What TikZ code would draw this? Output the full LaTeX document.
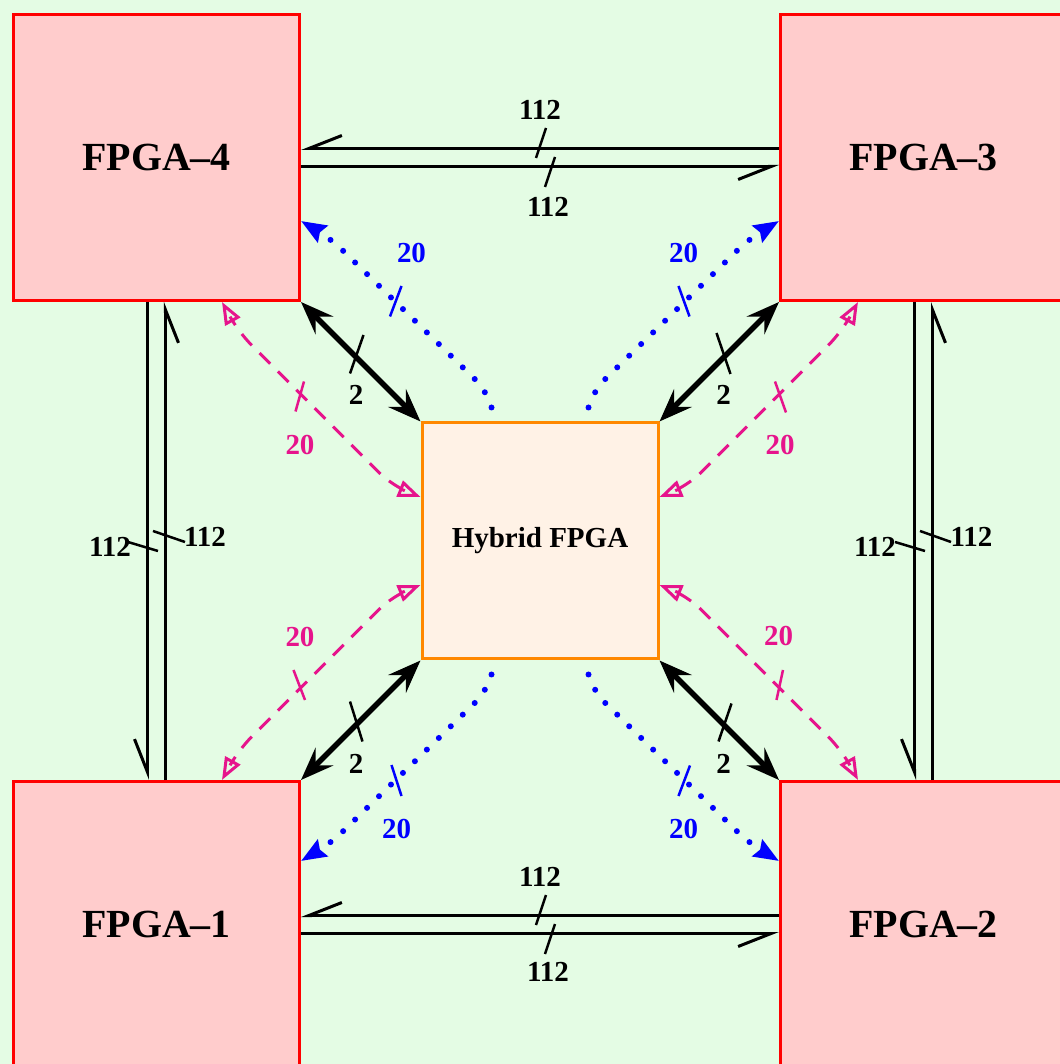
\documentclass[tikz,border=0pt]{standalone}
\usepackage{fontspec}
\setmainfont{Liberation Serif}
\usetikzlibrary{arrows.meta}

\definecolor{bggreen}{RGB}{228,252,228}
\definecolor{boxpink}{RGB}{255,204,204}
\definecolor{hybfill}{RGB}{255,242,230}
\definecolor{hyborange}{RGB}{255,136,0}
\definecolor{cfgpink}{RGB}{230,20,140}

\begin{document}
\begin{tikzpicture}
    % Define styles
    \tikzstyle{fpga} = [rectangle, draw=red, fill=boxpink, line width=0.06cm, minimum size=5.72cm, inner sep=0pt, font=\fontsize{22.7}{27}\selectfont\bfseries]
    \tikzstyle{hybrid} = [rectangle, draw=hyborange, fill=hybfill, line width=0.06cm, minimum size=4.72cm, inner sep=0pt, font=\fontsize{16.5}{20}\selectfont\bfseries]
    \tikzstyle{bus} = [line width=0.06cm, -{Straight Barb[harpoon, swap, length=0.66cm, width=0.52cm]}]
    \tikzstyle{wide} = [line width=0.11cm, {Stealth[length=0.66cm, width=0.5cm, inset=0.25cm]}-{Stealth[length=0.66cm, width=0.5cm, inset=0.25cm]}]
    \tikzstyle{dotlink} = [blue, line width=0.12cm, line cap=round, rounded corners=0.3cm, dash pattern=on 0pt off 0.334cm, -{Stealth[length=0.5cm, width=0.38cm, inset=0.06cm]}]
    \tikzstyle{cfglink} = [cfgpink, line width=0.06cm, rounded corners=0.35cm, dash pattern=on 0.3cm off 0.22cm, {Triangle[open, length=0.45cm, width=0.34cm]}-{Triangle[open, length=0.45cm, width=0.34cm]}]
    \tikzstyle{tick} = [line width=0.05cm]
    \tikzstyle{lbl} = [font=\fontsize{16.5}{20}\selectfont\bfseries, inner sep=0pt]

    % Background
    \useasboundingbox (-10.8,-10.46) rectangle (10.4,10.82);
    \clip (-10.8,-10.46) rectangle (10.4,10.82);
    \fill[bggreen] (-10.8,-10.46) rectangle (10.4,10.82);

    % Boards
    \node[hybrid] (hyb) at (0,0) {Hybrid FPGA};
    \node[fpga] (f4) at (-7.67,7.67) {FPGA–4};
    \node[fpga] (f3) at (7.67,7.67) {FPGA–3};
    \node[fpga] (f1) at (-7.67,-7.67) {FPGA–1};
    \node[fpga] (f2) at (7.67,-7.67) {FPGA–2};

    % 112-bit buses, top and bottom
    \draw[bus] ([yshift=0.18cm]f3.west) -- ([yshift=0.18cm]f4.east);
    \draw[bus] ([yshift=-0.18cm]f4.east) -- ([yshift=-0.18cm]f3.west);
    \draw[tick] (0.12,8.26) -- (-0.08,7.66);
    \draw[tick] (0.3,7.68) -- (0.1,7.08);
    \node[lbl] (n1) at (0,8.62) {112};
    \node[lbl] (n2) at (0.16,6.68) {112};

    \draw[bus] ([yshift=0.18cm]f2.west) -- ([yshift=0.18cm]f1.east);
    \draw[bus] ([yshift=-0.18cm]f1.east) -- ([yshift=-0.18cm]f2.west);
    \draw[tick] (0.12,-7.08) -- (-0.08,-7.68);
    \draw[tick] (0.3,-7.66) -- (0.1,-8.26);
    \node[lbl] (n3) at (0,-6.72) {112};
    \node[lbl] (n4) at (0.16,-8.62) {112};

    % 112-bit buses, left and right
    \draw[bus] ([xshift=-0.18cm]f4.south) -- ([xshift=-0.18cm]f1.north);
    \draw[bus] ([xshift=0.18cm]f1.north) -- ([xshift=0.18cm]f4.south);
    \draw[tick] (-8.24,-0.02) -- (-7.64,-0.2);
    \draw[tick] (-7.74,0.2) -- (-7.1,-0.02);
    \node[lbl] (n5) at (-8.6,-0.12) {112};
    \node[lbl] (n6) at (-6.7,0.08) {112};

    \draw[bus] ([xshift=-0.18cm]f3.south) -- ([xshift=-0.18cm]f2.north);
    \draw[bus] ([xshift=0.18cm]f2.north) -- ([xshift=0.18cm]f3.south);
    \draw[tick] (7.1,-0.02) -- (7.7,-0.2);
    \draw[tick] (7.6,0.2) -- (8.22,-0.02);
    \node[lbl] (n7) at (6.7,-0.12) {112};
    \node[lbl] (n8) at (8.63,0.08) {112};

    % 2-bit links to the hybrid board
    \draw[wide] (f4.south east) -- (hyb.north west);
    \draw[wide] (f3.south west) -- (hyb.north east);
    \draw[wide] (f1.north east) -- (hyb.south west);
    \draw[wide] (f2.north west) -- (hyb.south east);
    \draw[tick] (-3.8,3.35) -- (-3.53,4.12);
    \draw[tick] (3.53,4.16) -- (3.81,3.34);
    \draw[tick] (-3.8,-3.21) -- (-3.55,-4.01);
    \draw[tick] (3.57,-4.01) -- (3.83,-3.25);
    \node[lbl] (n9) at (-3.68,2.92) {2};
    \node[lbl] (n10) at (3.67,2.92) {2};
    \node[lbl] (n11) at (-3.68,-4.45) {2};
    \node[lbl] (n12) at (3.67,-4.45) {2};

    % 20-bit links (dotted)
    \draw[dotlink] ([shift={(-0.97,0.28)}]hyb.north) -- (-1.08,3.02) -- (-4.18,6.04) -- ([yshift=-1.27cm]f4.east);
    \draw[dotlink] ([shift={(0.97,0.28)}]hyb.north) -- (1.08,3.02) -- (4.18,6.04) -- ([yshift=-1.27cm]f3.west);
    \draw[dotlink] ([shift={(-0.97,-0.28)}]hyb.south) -- (-1.08,-3.02) -- (-4.18,-6.04) -- ([yshift=1.27cm]f1.east);
    \draw[dotlink] ([shift={(0.97,-0.28)}]hyb.south) -- (1.08,-3.02) -- (4.18,-6.04) -- ([yshift=1.27cm]f2.west);
    \draw[tick, blue] (-3.0,4.49) -- (-2.77,5.1);
    \draw[tick, blue] (2.77,5.1) -- (2.99,4.49);
    \draw[tick, blue] (-2.97,-4.48) -- (-2.77,-5.1);
    \draw[tick, blue] (3.0,-4.49) -- (2.77,-5.1);
    \node[lbl, blue] (n13) at (-2.57,5.75) {20};
    \node[lbl, blue] (n14) at (2.87,5.75) {20};
    \node[lbl, blue] (n15) at (-2.87,-5.75) {20};
    \node[lbl, blue] (n16) at (2.87,-5.75) {20};

    % 20-bit links (dashed)
    \draw[cfglink] ([xshift=1.31cm]f4.south) -- (-6.03,4.18) -- (-2.96,1.11) -- ([yshift=0.88cm]hyb.west);
    \draw[cfglink] ([xshift=-1.31cm]f3.south) -- (6.03,4.18) -- (2.96,1.11) -- ([yshift=0.88cm]hyb.east);
    \draw[cfglink] ([xshift=1.31cm]f1.north) -- (-6.03,-4.18) -- (-2.96,-1.11) -- ([yshift=-0.88cm]hyb.west);
    \draw[cfglink] ([xshift=-1.31cm]f2.north) -- (6.03,-4.18) -- (2.96,-1.11) -- ([yshift=-0.88cm]hyb.east);
    \draw[tick, cfgpink] (-4.89,2.59) -- (-4.72,3.19);
    \draw[tick, cfgpink] (4.7,3.19) -- (4.92,2.57);
    \draw[tick, cfgpink] (-4.93,-2.58) -- (-4.7,-3.18);
    \draw[tick, cfgpink] (4.73,-3.18) -- (4.86,-2.58);
    \node[lbl, cfgpink] (n17) at (-4.8,1.92) {20};
    \node[lbl, cfgpink] (n18) at (4.8,1.92) {20};
    \node[lbl, cfgpink] (n19) at (-4.8,-1.92) {20};
    \node[lbl, cfgpink] (n20) at (4.77,-1.91) {20};
\end{tikzpicture}
\end{document}
